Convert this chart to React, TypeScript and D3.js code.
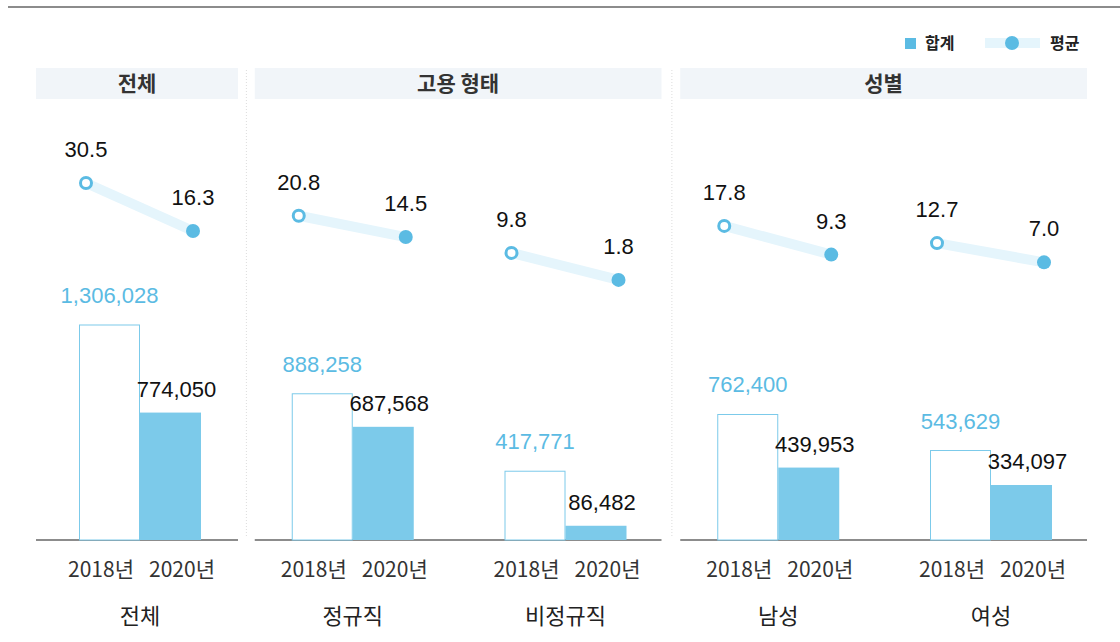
import React from "react";
import * as d3 from "d3";

const categories = ["전체", "정규직", "비정규직", "남성", "여성"];
const groups = [
  { name: "전체", members: ["전체"] },
  { name: "고용 형태", members: ["정규직", "비정규직"] },
  { name: "성별", members: ["남성", "여성"] },
];
const years = ["2018년", "2020년"];
const total2018 = [1306028, 888258, 417771, 762400, 543629];
const total2020 = [774050, 687568, 86482, 439953, 334097];
const avg2018 = [30.5, 20.8, 9.8, 17.8, 12.7];
const avg2020 = [16.3, 14.5, 1.8, 9.3, 7.0];
const legendLabels = ["합계", "평균"];

const W = 1120;
const H = 642;
const BLUE = "#5bbbe3";
const BAR_BLUE = "#7ccaea";
const BAND = "#e5f5fc";
const FONT = "'Liberation Sans', Arial, sans-serif";
const KFONT = "'Noto Sans CJK KR', sans-serif";

export default function App() {
  const xc = d3.scalePoint<string>().domain(categories).range([140, 991]);
  const xi = d3.scaleBand<string>().domain(years).range([-61, 61]).padding(0);
  const baseY = 540;
  const yBar = d3.scaleLinear().domain([0, 1306028]).range([baseY, 325]);
  const yAvg = d3.scaleLinear().domain([0, 30.5]).range([286, 183]);
  const fmt = d3.format(",");
  const fmt1 = d3.format(".1f");

  const groupExt = groups.map((g, i) => {
    const c0 = xc(g.members[0])!;
    const c1 = xc(g.members[g.members.length - 1])!;
    return { ...g, x0: c0 - (i === 0 ? 104 : 98), x1: c1 + (i === 0 ? 98 : 96) };
  });

  return (
    <svg
      width={W}
      height={H}
      style={{ position: "absolute", left: 0, top: 0, background: "#fff" }}
    >
      <line x1={8} x2={W} y1={7} y2={7} stroke="#8c8c8c" strokeWidth={2} />

      {/* legend */}
      <g>
        <rect x={905} y={38} width={11} height={11} fill={BLUE} />
        <text x={925} y={49} fontFamily={KFONT} fontWeight={700} fontSize={16} fill="#222">
          {legendLabels[0]}
        </text>
        <rect x={985} y={38} width={55} height={10} fill={BAND} />
        <circle cx={1012} cy={43} r={7} fill={BLUE} />
        <text x={1050} y={49} fontFamily={KFONT} fontWeight={700} fontSize={16} fill="#222">
          {legendLabels[1]}
        </text>
      </g>

      {/* separators */}
      {groupExt.slice(1).map((g, i) => {
        const prev = groupExt[i];
        const x = (xc(prev.members[prev.members.length - 1])! + xc(g.members[0])!) / 2;
        return (
          <line
            key={"sep" + i}
            x1={x}
            x2={x}
            y1={70}
            y2={baseY - 4}
            stroke="#dcdcdc"
            strokeWidth={1}
            strokeDasharray="1,2"
          />
        );
      })}

      {/* headers and baselines */}
      {groupExt.map((g) => (
        <g key={g.name}>
          <rect x={g.x0} y={68} width={g.x1 - g.x0} height={31} fill="#f1f5f9" />
          <text
            x={(g.x0 + g.x1) / 2}
            y={91}
            textAnchor="middle"
            fontFamily={KFONT}
            fontWeight={700}
            fontSize={21}
            fill="#333"
          >
            {g.name}
          </text>
          <line x1={g.x0} x2={g.x1} y1={baseY} y2={baseY} stroke="#666" strokeWidth={1.5} />
        </g>
      ))}

      {/* bars */}
      {categories.map((c, i) => {
        const cx = xc(c)!;
        const x18 = cx + xi(years[0])!;
        const x20 = cx + xi(years[1])!;
        const bw = xi.bandwidth();
        return (
          <g key={"bar" + c}>
            <rect
              x={x18 + 0.5}
              y={yBar(total2018[i])}
              width={bw - 1}
              height={baseY - yBar(total2018[i])}
              fill="#fff"
              stroke={BAR_BLUE}
              strokeWidth={1}
            />
            <rect
              x={x20}
              y={yBar(total2020[i])}
              width={bw}
              height={baseY - yBar(total2020[i])}
              fill={BAR_BLUE}
            />
            <text
              x={x18 + bw / 2}
              y={yBar(total2018[i]) - 22}
              textAnchor="middle"
              fontFamily={FONT}
              fontSize={22}
              fill={BLUE}
            >
              {fmt(total2018[i])}
            </text>
            <text
              x={x20 + bw / 2 + 6}
              y={yBar(total2020[i]) - 16}
              textAnchor="middle"
              fontFamily={FONT}
              fontSize={22}
              fill="#111"
            >
              {fmt(total2020[i])}
            </text>
            <text
              x={cx - 39}
              y={577}
              textAnchor="middle"
              fontFamily={KFONT}
              fontSize={21}
              fill="#333"
            >
              {years[0]}
            </text>
            <text
              x={cx + 42}
              y={577}
              textAnchor="middle"
              fontFamily={KFONT}
              fontSize={21}
              fill="#333"
            >
              {years[1]}
            </text>
            <text
              x={cx}
              y={624}
              textAnchor="middle"
              fontFamily={KFONT}
              fontSize={22}
              fill="#222"
            >
              {c}
            </text>
          </g>
        );
      })}

      {/* average lines */}
      {categories.map((c, i) => {
        const cx = xc(c)!;
        const p0: [number, number] = [cx - 54, yAvg(avg2018[i])];
        const p1: [number, number] = [cx + 53, yAvg(avg2020[i])];
        const line = d3.line()([p0, p1]) || "";
        return (
          <g key={"avg" + c}>
            <path d={line} stroke={BAND} strokeWidth={10} fill="none" />
            <circle cx={p0[0]} cy={p0[1]} r={5.5} fill="#fff" stroke={BLUE} strokeWidth={3} />
            <circle cx={p1[0]} cy={p1[1]} r={7} fill={BLUE} />
            <text
              x={p0[0]}
              y={p0[1] - 26}
              textAnchor="middle"
              fontFamily={FONT}
              fontSize={22}
              fill="#111"
            >
              {fmt1(avg2018[i])}
            </text>
            <text
              x={p1[0]}
              y={p1[1] - 26}
              textAnchor="middle"
              fontFamily={FONT}
              fontSize={22}
              fill="#111"
            >
              {fmt1(avg2020[i])}
            </text>
          </g>
        );
      })}
    </svg>
  );
}
